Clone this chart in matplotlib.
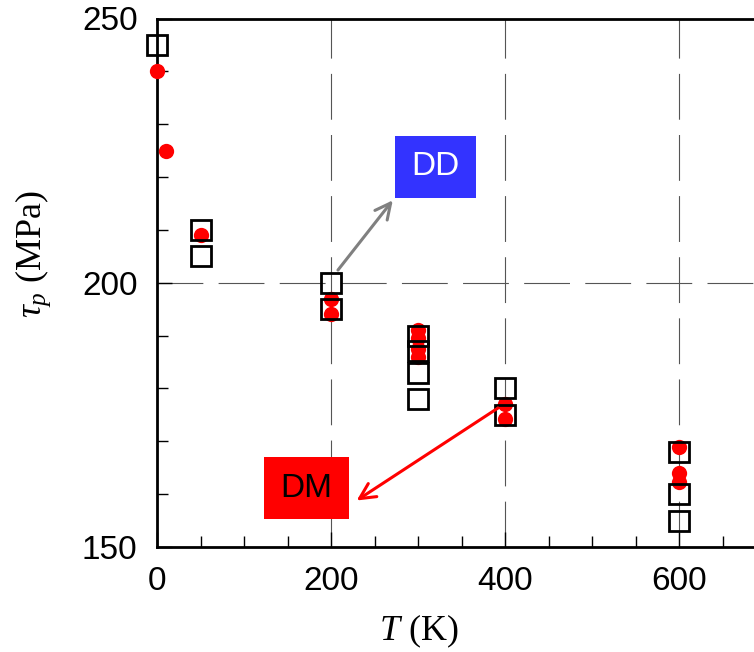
import matplotlib
matplotlib.use("Agg")
import matplotlib.pyplot as plt
from matplotlib.patches import Rectangle
from matplotlib.ticker import MultipleLocator, FixedLocator

plt.rcParams['mathtext.fontset'] = 'custom'
plt.rcParams['mathtext.rm'] = 'Liberation Serif'
plt.rcParams['mathtext.it'] = 'Liberation Serif:italic'
plt.rcParams['lines.scale_dashes'] = False

# DD data (open squares)
dd_T = [0, 50, 50, 200, 200, 300, 300, 300, 300, 400, 400, 600, 600, 600]
dd_tau = [245, 210, 205, 200, 195, 190, 187, 183, 178, 180, 175, 168, 160, 155]

# DM data (red circles)
dm_T = [0, 10, 50, 200, 200, 300, 300, 300, 300, 400, 400, 600, 600, 600]
dm_tau = [240, 225, 209, 197, 194, 191, 189.5, 187.5, 186, 177, 174.3, 169, 164, 162.3]

x_major = [0, 200, 400, 600]
y_major = [150, 200, 250]

W, H = 754, 652
fig = plt.figure(figsize=(W / 100, H / 100), dpi=100)
left, right_px = 157, 766
bottom_px, top_px = 547, 18.5
ax = fig.add_axes([left / W, 1 - bottom_px / H, (right_px - left) / W, (bottom_px - top_px) / H])

ax.set_xlim(0, 700)
ax.set_ylim(150, 250)

# grid lines
for xv in [200, 400, 600]:
    ax.axvline(xv, color='#555555', lw=0.8, dashes=(33, 11), zorder=1)
ax.axhline(200, color='#555555', lw=0.8, dashes=(33, 11), zorder=1)

ax.plot(dm_T, dm_tau, 'o', color='red', markersize=11, markeredgewidth=0, zorder=3, clip_on=False)
ax.plot(dd_T, dd_tau, 's', markerfacecolor='none', markeredgecolor='black',
        markersize=14, markeredgewidth=2, zorder=4, clip_on=False)

# ticks
ax.xaxis.set_major_locator(FixedLocator(x_major))
ax.xaxis.set_minor_locator(MultipleLocator(50))
ax.yaxis.set_major_locator(FixedLocator(y_major))
ax.yaxis.set_minor_locator(MultipleLocator(10))
ax.tick_params(which='both', direction='in', top=False, right=False, width=1)
ax.tick_params(which='major', length=11, pad=14)
ax.tick_params(which='minor', length=8)
for lab in ax.get_xticklabels() + ax.get_yticklabels():
    lab.set_fontfamily('Liberation Sans')
    lab.set_fontsize(24)

for s in ['left', 'bottom', 'top']:
    ax.spines[s].set_linewidth(2)
ax.spines['right'].set_visible(False)

ax.set_xlabel(r'$T$ (K)', fontfamily='Liberation Serif', fontsize=26)
ax.set_ylabel(r'$\tau_p$ (MPa)', fontfamily='Liberation Serif', fontsize=26)
ax.xaxis.set_label_coords(0.43, -0.125)
ax.yaxis.set_label_coords(-0.17, 0.555)

# annotation boxes
ax.add_patch(Rectangle((273.5, 216.1), 93, 11.7, facecolor='#3333ff', edgecolor='none', zorder=5))
ax.text(320, 222, 'DD', color='white', fontsize=24, fontfamily='Liberation Sans',
        ha='center', va='center', zorder=6)
ax.add_patch(Rectangle((123, 155.3), 98, 11.7, facecolor='#ff0000', edgecolor='none', zorder=5))
ax.text(172, 161.1, 'DM', color='black', fontsize=24, fontfamily='Liberation Sans',
        ha='center', va='center', zorder=6)

ax.annotate('', xy=(271, 215.6), xytext=(208, 202.4),
            arrowprops=dict(arrowstyle='->', color='#808080', lw=2.2,
                            mutation_scale=28, shrinkA=0, shrinkB=0), zorder=6)
ax.annotate('', xy=(229.5, 158.8), xytext=(392, 176.3),
            arrowprops=dict(arrowstyle='->', color='red', lw=2.2,
                            mutation_scale=28, shrinkA=0, shrinkB=0), zorder=6)

fig.savefig('out.png', dpi=100)
